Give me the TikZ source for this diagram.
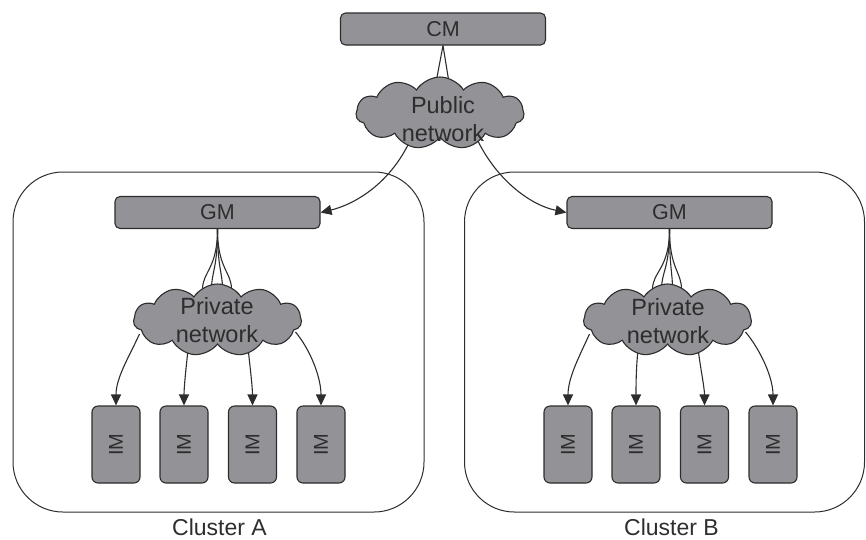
\documentclass[tikz,border=0pt]{standalone}
\usepackage{fontspec}
\setmainfont{Liberation Sans}
\usetikzlibrary{shapes.symbols,arrows.meta,backgrounds}
\definecolor{boxfill}{RGB}{146,146,151}
\definecolor{ink}{RGB}{45,45,45}
\definecolor{txt}{RGB}{45,45,45}
\tikzset{
  mgrbox/.style={draw=ink, line width=1.1pt, fill=boxfill, rounded corners=5pt,
    minimum width=205pt, minimum height=32pt, inner sep=0pt,
    font=\fontsize{21.5}{24}\selectfont, text=txt},
  imbox/.style={draw=ink, line width=1.1pt, fill=boxfill, rounded corners=6pt,
    minimum width=48pt, minimum height=77pt, inner sep=0pt},
  imtext/.style={rotate=90, font=\fontsize{20}{24}\selectfont, text=txt, inner sep=0pt},
  netcloud/.style={cloud, cloud puffs=11, cloud puff arc=115, aspect=2.3,
    draw=ink, line width=1.1pt, fill=boxfill, inner sep=0pt,
    minimum width=168pt, minimum height=72pt},
  nettext/.style={align=center, font=\fontsize{23.5}{28}\selectfont, text=txt, inner sep=0pt},
  clusterbox/.style={draw=ink, line width=1pt, rounded corners=50pt},
  clabel/.style={font=\fontsize{23}{26}\selectfont, text=txt, inner sep=0pt, anchor=base},
  link/.style={draw=ink, line width=1.1pt},
  arr/.style={draw=ink, line width=1.1pt, -{Triangle[length=11pt,width=10pt]}},
}
\begin{document}
\begin{tikzpicture}[x=1pt,y=-1pt]
\useasboundingbox (0,0) rectangle (866,539);
% clusters
\node[clusterbox, minimum width=411pt, minimum height=340pt, inner sep=0pt] (clA) at (218.5,342) {};
\node[clusterbox, minimum width=400pt, minimum height=340pt, inner sep=0pt] (clB) at (664.5,342) {};
\node[clabel] (labA) at (219.5,535.5) {Cluster A};
\node[clabel] (labB) at (671.5,535.5) {Cluster B};
% top
\node[mgrbox] (cm) at (443,29) {CM};
\node[netcloud] (pub) at (440,113) {};
\node[nettext] (pubtext) at (443,119) {Public\\network};
% GMs
\node[mgrbox] (gmA) at (217.5,212.5) {GM};
\node[mgrbox] (gmB) at (669.5,212.5) {GM};
% private clouds
\node[netcloud] (prA) at (217.5,320) {};
\node[nettext] (prAtext) at (217,320) {Private\\network};
\node[netcloud] (prB) at (667.5,320) {};
\node[nettext] (prBtext) at (668,321) {Private\\network};
% IMs
\foreach \i/\x in {1/116,2/184,3/252.5,4/321}{
  \node[imbox] (imA\i) at (\x,444.5) {};
  \node[imtext] (imAt\i) at (\x,444.5) {IM};
}
\foreach \i/\x in {1/568,2/636,3/704.5,4/773}{
  \node[imbox] (imB\i) at (\x,444.5) {};
  \node[imtext] (imBt\i) at (\x,444.5) {IM};
}
\begin{scope}[on background layer]
  % CM to public network
  \draw[link] (cm.south) -- ([shift={(-4,6)}]pub.north);
  \draw[link] (cm.south) -- ([shift={(9,6)}]pub.north);
  % public network to GMs
  \draw[arr] ([shift={(-27,-4)}]pub.south) .. controls (392,185) and (352,205) .. (gmA.east);
  \draw[arr] ([shift={(32,-10)}]pub.south) .. controls (492,178) and (530,205) .. (gmB.west);
  % GM to private networks
  \foreach \g/\p in {gmA/prA,gmB/prB}{
    \foreach \dx in {-15,-6,5,14}{
      \draw[link] (\g.south) .. controls +(0,40) and +(0,-18) .. ([shift={(\dx,6)}]\p.north);
    }
  }
  % private networks to IMs
  \foreach \c/\m in {prA/imA,prB/imB}{
    \draw[arr] ([shift={(-78,14)}]\c.center) .. controls +(-10,22) and +(0,-28) .. (\m1.north);
    \draw[arr] ([shift={(-29.5,30)}]\c.center) .. controls +(-2,18) and +(0,-18) .. (\m2.north);
    \draw[arr] ([shift={(30.5,28)}]\c.center) .. controls +(2,18) and +(0,-18) .. (\m3.north);
    \draw[arr] ([shift={(78,12)}]\c.center) .. controls +(15,18) and +(0,-28) .. (\m4.north);
  }
\end{scope}
\end{tikzpicture}
\end{document}
